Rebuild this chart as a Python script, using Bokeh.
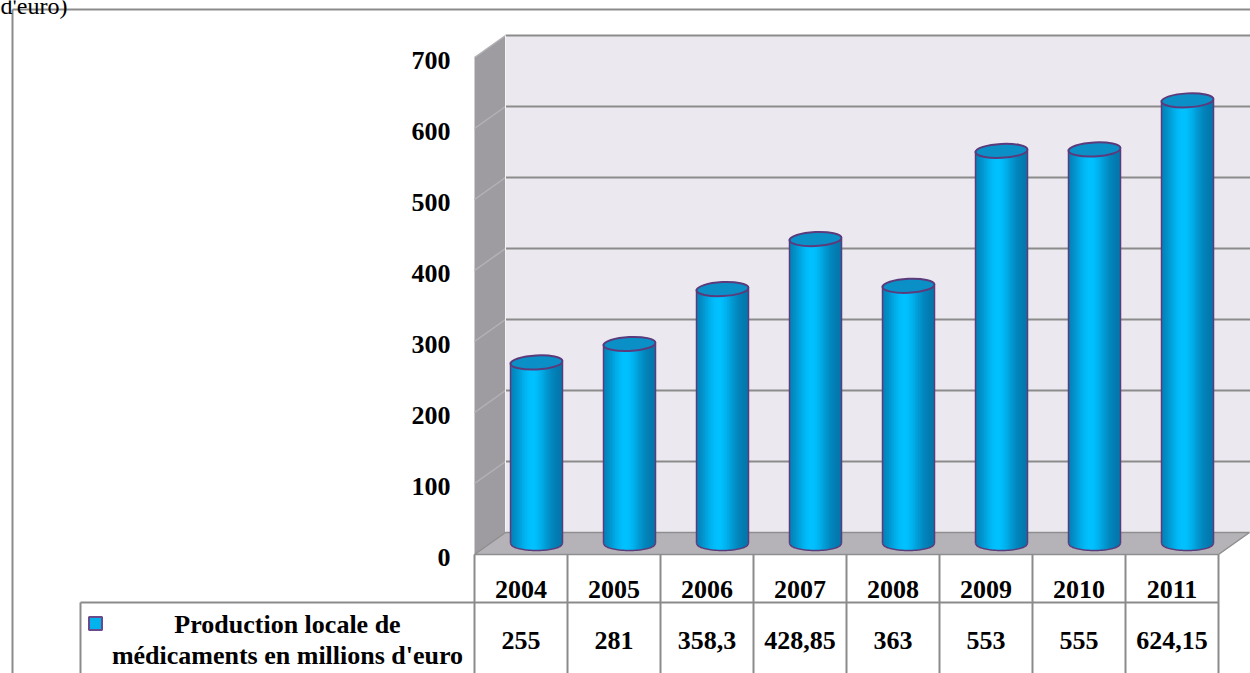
import math
from bokeh.plotting import figure
from bokeh.models import Range1d
from bokeh.core.properties import value
from bokeh.embed import file_html
from bokeh.resources import INLINE

# ---- data -------------------------------------------------------------
years = ["2004", "2005", "2006", "2007", "2008", "2009", "2010", "2011"]
production = [255, 281, 358.3, 428.85, 363, 553, 555, 624.15]
y_ticks = [0, 100, 200, 300, 400, 500, 600, 700]
series_label = ["Production locale de", "médicaments en millions d'euro"]
caption_tail = "d'euro)"

# ---- page geometry (pixels) ------------------------------------------
W, H = 1250, 673
COL_PX = 93.0          # width of one category column
X0_PX = 474.0          # left edge of the first column
Y0_PX = 554.0          # front-plane zero line
PX_PER_UNIT = 0.71     # 100 units = 71 px
DEPTH_PX = (31.0, 22.0)


def xd(px):
    return (px - X0_PX) / COL_PX


def yd(py):
    return (Y0_PX - py) / PX_PER_UNIT


DX = DEPTH_PX[0] / COL_PX
DY = DEPTH_PX[1] / PX_PER_UNIT
n = len(years)
ymax = y_ticks[-1]
FAR_X = xd(W) + 1

FONT = value("Liberation Serif")
GRID = "#8b8b8b"
OUTLINE = "#5c3b7c"

p = figure(width=W, height=H, x_range=Range1d(xd(0), xd(W)),
           y_range=Range1d(yd(H), yd(0)), output_backend="svg",
           toolbar_location=None, min_border=0,
           x_axis_location=None, y_axis_location=None)
p.grid.visible = False
p.outline_line_color = None
p.background_fill_color = "white"
p.border_fill_color = "white"

# ---- 3-D box: back wall, left wall, floor -----------------------------
p.quad(left=DX, right=FAR_X, bottom=DY, top=ymax + DY,
       fill_color="#ebe9ef", line_color=None)
back_lines = y_ticks[1:]
p.segment(x0=[DX] * len(back_lines), y0=[t + DY for t in back_lines],
          x1=[FAR_X] * len(back_lines), y1=[t + DY for t in back_lines],
          line_color=GRID, line_width=2)

p.patch([0, DX, DX, 0], [0, DY, ymax + DY, ymax],
        fill_color="#9e9ca1", line_color=None)
side_lines = y_ticks[1:]
p.segment(x0=[0] * len(side_lines), y0=side_lines,
          x1=[DX] * len(side_lines), y1=[t + DY for t in side_lines],
          line_color="#b4b2b7", line_width=1.5)
p.line([DX, DX], [DY, ymax + DY], line_color="#f4f3f6", line_width=1)

p.patch([0, n, n + DX, DX], [0, 0, DY, DY],
        fill_color="#b5b3b8", line_color="#8e8e8e", line_width=1.5)

# ---- cylinders ----------------------------------------------------------
CYL_W = 52.0 / COL_PX
ELL_H = 14.0 / PX_PER_UNIT
STRIPS = 32
DARK = (4, 98, 148)
BRIGHT = (0, 193, 255)


def shade(t):
    f = math.exp(-((t - 0.42) / 0.32) ** 2)
    f = 0.18 + 0.82 * f
    r, g, b = (int(round(d + (bb - d) * f)) for d, bb in zip(DARK, BRIGHT))
    return "#%02x%02x%02x" % (r, g, b)


def drop(u):
    q = 1 - (2 * u / CYL_W) ** 2
    return (ELL_H / 2) * math.sqrt(max(0.0, q))


base = DY / 2
xs, ys, cols = [], [], []
arc_x, arc_y = [], []
edge_x0, edge_x1, edge_y0, edge_y1 = [], [], [], []
top_x, top_y = [], []
for i, v in enumerate(production):
    cx = i + 0.5 + DX / 2
    top = v + base
    step = CYL_W / STRIPS
    for k in range(STRIPS):
        ul = -CYL_W / 2 + k * step
        ur = ul + step * (1.6 if k < STRIPS - 1 else 1.0)
        ur = min(ur, CYL_W / 2)
        xs.append([cx + ul, cx + ur, cx + ur, cx + ul])
        ys.append([top, top, base - drop(ur), base - drop(ul)])
        cols.append(shade((k + 0.5) / STRIPS))
    m = 40
    arc_x.append([cx - CYL_W / 2 + CYL_W * j / m for j in range(m + 1)])
    arc_y.append([base - drop(-CYL_W / 2 + CYL_W * j / m) for j in range(m + 1)])
    edge_x0 += [cx - CYL_W / 2, cx + CYL_W / 2]
    edge_x1 += [cx - CYL_W / 2, cx + CYL_W / 2]
    edge_y0 += [base, base]
    edge_y1 += [top, top]
    top_x.append(cx)
    top_y.append(top)

p.patches(xs, ys, fill_color=cols, line_color=None)
p.segment(x0=edge_x0, y0=edge_y0, x1=edge_x1, y1=edge_y1,
          line_color=OUTLINE, line_width=1.5)
p.multi_line(arc_x, arc_y, line_color=OUTLINE, line_width=1.5)
p.ellipse(x=top_x, y=top_y, width=CYL_W, height=ELL_H, angle=0.05,
          fill_color="#0a8fc6", line_color=OUTLINE, line_width=2)

# ---- value-axis labels -------------------------------------------------
p.text(x=[xd(450)] * len(y_ticks), y=[t - 2.5 / PX_PER_UNIT for t in y_ticks],
       text=[str(t) for t in y_ticks], text_font=FONT, text_font_size="26px",
       text_font_style="bold", text_align="right", text_baseline="middle",
       text_color="black")

# ---- data table beneath the chart --------------------------------------
row_split = yd(602)
bottom = yd(H + 4)
p.segment(x0=[xd(80)], y0=[row_split], x1=[n], y1=[row_split],
          line_color=GRID, line_width=2)
p.segment(x0=list(range(n + 1)), y0=[0] * (n + 1),
          x1=list(range(n + 1)), y1=[bottom] * (n + 1),
          line_color=GRID, line_width=2)
p.segment(x0=[xd(80)], y0=[row_split], x1=[xd(80)], y1=[bottom],
          line_color=GRID, line_width=2)

centers = [i + 0.5 for i in range(n)]
p.text(x=centers, y=[yd(589)] * n, text=years, text_font=FONT,
       text_font_size="26px", text_font_style="bold", text_align="center",
       text_baseline="middle", text_color="black")
value_labels = [("%g" % v).replace(".", ",") for v in production]
p.text(x=centers, y=[yd(640)] * n, text=value_labels, text_font=FONT,
       text_font_size="26px", text_font_style="bold", text_align="center",
       text_baseline="middle", text_color="black")

p.scatter(x=[xd(95)], y=[yd(623)], marker="square", size=13,
          fill_color="#00b2ee", line_color="#6b4a8c", line_width=2)
p.text(x=[xd(287)] * 2, y=[yd(624), yd(655)], text=series_label,
       text_font=FONT, text_font_size="26px", text_font_style="bold",
       text_align="center", text_baseline="middle", text_color="black")

# ---- surrounding frame and caption fragment ------------------------------
p.line([xd(12), xd(12)], [yd(H + 4), yd(9)], line_color=GRID, line_width=2)
p.line([xd(12), xd(W + 4)], [yd(9), yd(9)], line_color=GRID, line_width=2)
p.text(x=[xd(0)], y=[yd(5)], text=[caption_tail], text_font=FONT,
       text_font_size="24px", text_align="left", text_baseline="alphabetic",
       text_color="black")

open("out.html", "w").write(file_html(p, INLINE))
